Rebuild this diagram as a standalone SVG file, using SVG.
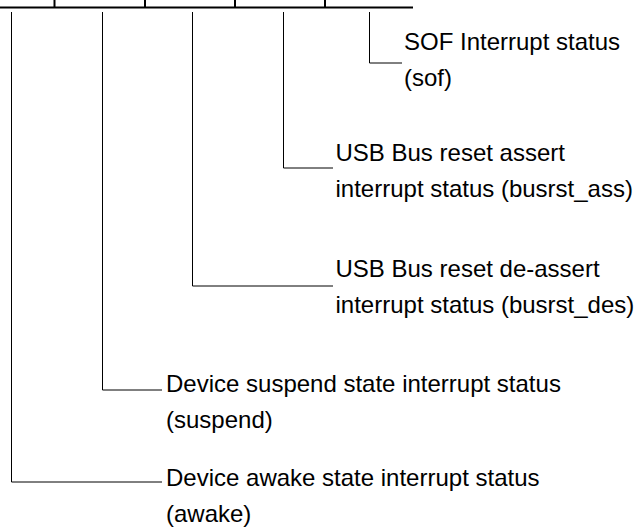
<svg xmlns="http://www.w3.org/2000/svg" width="638" height="527" viewBox="0 0 638 527">
<style>
.lbl{font-family:"Liberation Sans",Arial,sans-serif;font-size:24px;fill:#000}
.bar{stroke:#000;stroke-width:2;fill:none}
.con{stroke:#000;stroke-width:1;fill:none}
</style>
<rect width="638" height="527" fill="#fff"/>
<g id="register">
<line class="bar" x1="0" y1="7.5" x2="413" y2="7.5"/>
<line class="bar" x1="54.5" y1="0" x2="54.5" y2="7"/>
<line class="bar" x1="145" y1="0" x2="145" y2="7"/>
<line class="bar" x1="235" y1="0" x2="235" y2="7"/>
<line class="bar" x1="325" y1="0" x2="325" y2="7"/>
</g>
<g id="connectors">
<polyline class="con" points="369.5,12 369.5,63 402,63"/>
<polyline class="con" points="283.5,12 283.5,168 333,168"/>
<polyline class="con" points="192.5,12 192.5,286 333,286"/>
<polyline class="con" points="102.5,12 102.5,390 162,390"/>
<polyline class="con" points="11.5,12 11.5,482 162,482"/>
</g>
<g id="sof">
<text class="lbl" x="404" y="50">SOF Interrupt status</text>
<text class="lbl" x="404" y="86">(sof)</text>
</g>
<g id="busrst_ass">
<text class="lbl" x="335.5" y="161">USB Bus reset assert</text>
<text class="lbl" x="335.5" y="197">interrupt status (busrst_ass)</text>
</g>
<g id="busrst_des">
<text class="lbl" x="335.5" y="277">USB Bus reset de-assert</text>
<text class="lbl" x="335.5" y="313">interrupt status (busrst_des)</text>
</g>
<g id="suspend">
<text class="lbl" x="166" y="392">Device suspend state interrupt status</text>
<text class="lbl" x="166" y="428">(suspend)</text>
</g>
<g id="awake">
<text class="lbl" x="166" y="486">Device awake state interrupt status</text>
<text class="lbl" x="166" y="522">(awake)</text>
</g>
</svg>
